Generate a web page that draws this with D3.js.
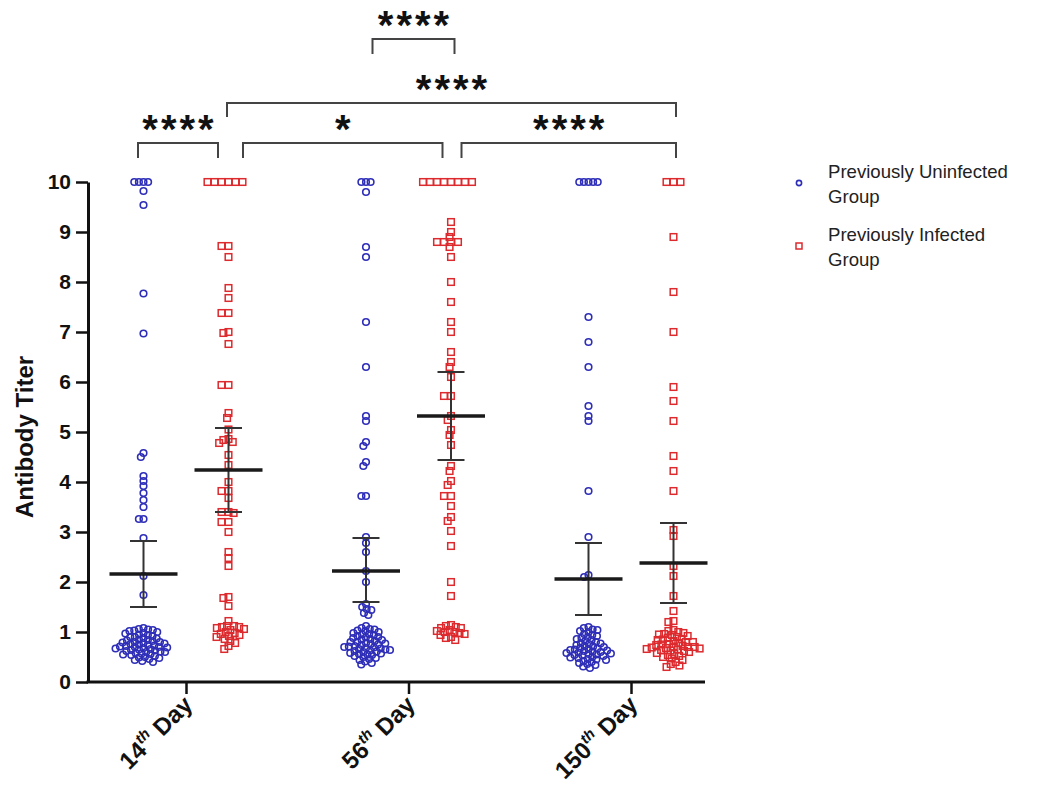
<!DOCTYPE html>
<html>
<head>
<meta charset="utf-8">
<script src="https://cdn.jsdelivr.net/npm/d3@7"></script>
<style>
  body { margin: 0; background: #fff; }
  svg { font-family: "Liberation Sans", Arial, sans-serif; }
</style>
</head>
<body>
<svg id="chart" width="1039" height="789"></svg>
<script>
// categories
const days = ['14', '56', '150'];
const groups = ['Previously Uninfected Group', 'Previously Infected Group'];
const yTicks = [0, 1, 2, 3, 4, 5, 6, 7, 8, 9, 10];

// previously uninfected, one list per day
const uninfected14 = [10, 10, 10, 10, 9.82, 9.54, 7.77, 6.97, 4.58, 4.5, 4.12, 4.02, 3.92, 3.78, 3.64, 3.5, 3.26, 3.26, 2.88, 2.12, 1.74,
  1.08, 1.06, 1.05, 1.04, 1.03, 1.02, 1.0, 0.98, 0.97, 0.95, 0.94, 0.92, 0.9, 0.9, 0.88, 0.87, 0.85, 0.84, 0.83, 0.82, 0.8, 0.8,
  0.79, 0.78, 0.77, 0.76, 0.75, 0.74, 0.73, 0.72, 0.71, 0.7, 0.7, 0.69, 0.68, 0.67, 0.66, 0.65, 0.64, 0.63, 0.62, 0.61, 0.6,
  0.6, 0.58, 0.57, 0.56, 0.55, 0.54, 0.52, 0.5, 0.49, 0.48, 0.46, 0.44, 0.42, 0.4];
const uninfected56 = [10, 10, 10, 9.8, 8.7, 8.5, 7.2, 6.3, 5.32, 5.22, 4.8, 4.72, 4.4, 4.32, 3.72, 3.72, 2.9, 2.78, 2.6, 2.22, 2.0,
  1.56, 1.5, 1.46, 1.44, 1.38, 1.34,
  1.12, 1.08, 1.06, 1.05, 1.03, 1.02, 1.0, 0.98, 0.96, 0.95, 0.94, 0.92, 0.9, 0.89, 0.88, 0.86, 0.85, 0.84, 0.82, 0.8, 0.8,
  0.78, 0.77, 0.76, 0.75, 0.74, 0.72, 0.71, 0.7, 0.69, 0.68, 0.67, 0.66, 0.65, 0.64, 0.63, 0.62, 0.61, 0.6, 0.58, 0.57,
  0.56, 0.55, 0.54, 0.52, 0.5, 0.48, 0.46, 0.44, 0.41, 0.38, 0.35];
const uninfected150 = [10, 10, 10, 10, 10, 7.3, 6.8, 6.3, 5.52, 5.32, 5.22, 3.82, 2.9, 2.14, 2.1,
  1.1, 1.08, 1.05, 1.04, 1.02, 1.0, 0.96, 0.94, 0.92, 0.9, 0.88, 0.86, 0.84, 0.82, 0.8, 0.78, 0.77, 0.76, 0.74, 0.72,
  0.71, 0.7, 0.68, 0.67, 0.66, 0.65, 0.64, 0.63, 0.62, 0.61, 0.6, 0.59, 0.58, 0.57, 0.56, 0.55, 0.54, 0.53, 0.52,
  0.5, 0.49, 0.48, 0.46, 0.45, 0.44, 0.42, 0.4, 0.38, 0.36, 0.34, 0.31, 0.28];

// previously infected, one list per day
const infected14 = [10, 10, 10, 10, 10, 10, 8.72, 8.72, 8.5, 7.88, 7.68, 7.38, 7.38, 7.0, 6.98, 6.76, 5.94, 5.94, 5.38, 5.28,
  5.05, 4.86, 4.84, 4.8, 4.78, 4.54, 4.34, 4.0, 3.82, 3.82, 3.68, 3.4, 3.4, 3.38, 3.2, 3.2, 3.0, 2.6, 2.48, 2.32, 1.7, 1.68, 1.52,
  1.22, 1.12, 1.12, 1.1, 1.1, 1.08, 1.06, 1.04, 1.0, 0.98, 0.96, 0.94, 0.92, 0.9, 0.86, 0.82, 0.78, 0.72, 0.66];
const infected56 = [10, 10, 10, 10, 10, 10, 10, 10, 9.2, 9.0, 8.9, 8.8, 8.8, 8.8, 8.8, 8.7, 8.5, 8.0, 7.6, 7.2, 7.0, 6.6, 6.4,
  6.3, 6.1, 5.72, 5.72, 5.32, 5.24, 5.04, 4.94, 4.74, 4.32, 4.22, 4.02, 3.94, 3.72, 3.72, 3.52, 3.3, 3.22, 3.02, 2.72, 2.0, 1.72,
  1.14, 1.12, 1.1, 1.08, 1.08, 1.04, 1.02, 1.0, 1.0, 0.98, 0.96, 0.94, 0.9, 0.88, 0.84];
const infected150 = [10, 10, 10, 8.9, 7.8, 7.0, 5.9, 5.62, 5.22, 4.52, 4.22, 3.82, 3.04, 2.92, 2.32, 2.12, 1.72, 1.42, 1.22, 1.2,
  1.04, 1.02, 1.0, 0.98, 0.96, 0.95, 0.94, 0.92, 0.9, 0.88, 0.86, 0.85, 0.84, 0.82, 0.8, 0.8, 0.78, 0.76, 0.75, 0.74, 0.72,
  0.71, 0.7, 0.7, 0.69, 0.68, 0.67, 0.66, 0.65, 0.64, 0.63, 0.62, 0.6, 0.58, 0.56, 0.54, 0.52, 0.5, 0.47, 0.44, 0.4, 0.36,
  0.33, 0.3];

// mean and error bar ends
const uninfectedMean = [2.16, 2.22, 2.06];
const uninfectedLow = [1.5, 1.6, 1.34];
const uninfectedHigh = [2.82, 2.88, 2.78];
const infectedMean = [4.24, 5.32, 2.38];
const infectedLow = [3.4, 4.44, 1.58];
const infectedHigh = [5.08, 6.2, 3.18];

// significance comparisons: [day, group] vs [day, group]
const comparisons = [
  { a: ['14', 0], b: ['14', 1], label: '****' },
  { a: ['14', 1], b: ['56', 1], label: '*' },
  { a: ['56', 1], b: ['150', 1], label: '****' },
  { a: ['14', 1], b: ['150', 1], label: '****' },
  { a: ['56', 0], b: ['56', 1], label: '****' },
];

const series = [
  { name: groups[0], values: [uninfected14, uninfected56, uninfected150], mean: uninfectedMean, low: uninfectedLow, high: uninfectedHigh },
  { name: groups[1], values: [infected14, infected56, infected150], mean: infectedMean, low: infectedLow, high: infectedHigh },
];

const colors = ['#2e2eb8', '#dc2a2e'];
const ink = '#111';

const svg = d3.select('#chart');

const x = d3.scalePoint().domain(days).range([186, 631]);
const xSub = d3.scalePoint().domain([0, 1]).range([-42.5, 42.5]);
const y = d3.scaleLinear().domain([0, 10]).range([682, 182]);

// layout for brackets (pixel offsets from column centres and bar heights)
const bracketLayout = [
  { da: -5.5, db: -10.5, top: 143, leg: 15 },
  { da: 14.5, db: -8.5, top: 143, leg: 15 },
  { da: 10.5, db: 2.5, top: 143, leg: 15 },
  { da: -1.5, db: 2.5, top: 103, leg: 14 },
  { da: 6.5, db: 3.5, top: 39, leg: 15 },
];

// marker spacing: same value side by side, otherwise a tighter swarm
const spacing = [{ row: 4.6, swarm: 4.8 }, { row: 7, swarm: 5.2 }];

// simple beeswarm: nearest free offset to the column centre
function swarm(values, sp) {
  const pts = values.map(v => ({ v, y: y(v) })).sort((p, q) => p.y - q.y);
  const placed = [];
  const dist = (p, q) => (Math.abs(p.y - q.y) < 0.5 ? sp.row : sp.swarm);
  pts.forEach(p => {
    const near = placed.filter(q => Math.abs(q.y - p.y) < dist(p, q));
    const cands = [0];
    near.forEach(q => {
      const d = dist(p, q);
      const dx = Math.sqrt(Math.max(0, d * d - (q.y - p.y) ** 2));
      cands.push(q.x - dx, q.x + dx);
    });
    cands.sort((a, b) => Math.abs(a) - Math.abs(b) || a - b);
    for (const c of cands) {
      if (near.every(q => { const d = dist(p, q); return (q.x - c) ** 2 + (q.y - p.y) ** 2 >= d * d - 0.01; })) { p.x = c; break; }
    }
    placed.push(p);
  });
  return pts;
}

// y axis
const yAxis = svg.append('g')
  .attr('transform', `translate(${88},0)`)
  .call(d3.axisLeft(y).tickValues(yTicks).tickSize(12).tickPadding(5).tickSizeOuter(0));
yAxis.select('.domain').attr('stroke', ink).attr('stroke-width', 3);
yAxis.selectAll('.tick line').attr('stroke', ink).attr('stroke-width', 2.5);
yAxis.selectAll('.tick text')
  .attr('fill', ink)
  .style('font-size', '21px')
  .style('font-weight', 'bold')
  .style('font-family', '"Liberation Sans", Arial, sans-serif');

svg.append('text')
  .attr('transform', 'translate(33,437) rotate(-90)')
  .attr('text-anchor', 'middle')
  .style('font-size', '24px')
  .style('font-weight', 'bold')
  .attr('fill', ink)
  .text('Antibody Titer');

// x axis
svg.append('line')
  .attr('x1', 86.5).attr('x2', 705)
  .attr('y1', y(0)).attr('y2', y(0))
  .attr('stroke', ink).attr('stroke-width', 3);

const xAxis = svg.append('g')
  .attr('transform', `translate(0,${y(0)})`)
  .call(d3.axisBottom(x).tickSize(12).tickSizeOuter(0).tickFormat(''));
xAxis.select('.domain').remove();
xAxis.selectAll('.tick line').attr('stroke', ink).attr('stroke-width', 2.5);

const xLabels = svg.append('g').selectAll('text')
  .data(days)
  .join('text')
  .attr('transform', d => `translate(${x(d) + 8},${y(0) + 24}) rotate(-45)`)
  .attr('text-anchor', 'end')
  .attr('fill', ink)
  .style('font-size', '24px')
  .style('font-weight', 'bold');
xLabels.append('tspan').text(d => d);
xLabels.append('tspan')
  .attr('dy', -10)
  .style('font-size', '15px')
  .style('font-style', 'italic')
  .text('th');
xLabels.append('tspan')
  .attr('dy', 10)
  .text(' Day');

// points
series.forEach((s, gi) => {
  const g = svg.append('g').attr('class', 'series');
  s.values.forEach((vals, di) => {
    const cx = x(days[di]) + xSub(gi);
    const pts = swarm(vals, spacing[gi]);
    if (gi === 0) {
      g.selectAll(null).data(pts).join('circle')
        .attr('cx', p => cx + p.x)
        .attr('cy', p => p.y)
        .attr('r', 3.3)
        .attr('fill', 'none')
        .attr('stroke', colors[gi])
        .attr('stroke-width', 1.6);
    } else {
      g.selectAll(null).data(pts).join('rect')
        .attr('x', p => cx + p.x - 3.3)
        .attr('y', p => p.y - 3.3)
        .attr('width', 6.6)
        .attr('height', 6.6)
        .attr('fill', 'none')
        .attr('stroke', colors[gi])
        .attr('stroke-width', 1.5);
    }
  });
});

// mean and error bars
series.forEach((s, gi) => {
  const g = svg.append('g').attr('class', 'summary');
  days.forEach((day, di) => {
    const cx = x(day) + xSub(gi);
    g.append('line')
      .attr('x1', cx).attr('x2', cx)
      .attr('y1', y(s.high[di])).attr('y2', y(s.low[di]))
      .attr('stroke', '#333').attr('stroke-width', 2);
    [s.high[di], s.low[di]].forEach(v => {
      g.append('line')
        .attr('x1', cx - 13.5).attr('x2', cx + 13.5)
        .attr('y1', y(v)).attr('y2', y(v))
        .attr('stroke', '#333').attr('stroke-width', 2);
    });
    g.append('line')
      .attr('x1', cx - 34).attr('x2', cx + 34)
      .attr('y1', y(s.mean[di])).attr('y2', y(s.mean[di]))
      .attr('stroke', '#1a1a1a').attr('stroke-width', 3.5);
  });
});

// significance brackets
const colX = ([day, gi]) => x(day) + xSub(gi);
comparisons.forEach((c, i) => {
  const L = bracketLayout[i];
  const x1 = colX(c.a) + L.da;
  const x2 = colX(c.b) + L.db;
  svg.append('path')
    .attr('d', `M${x1},${L.top + L.leg}V${L.top}H${x2}V${L.top + L.leg}`)
    .attr('fill', 'none')
    .attr('stroke', '#444')
    .attr('stroke-width', 2);
  svg.append('text')
    .attr('x', (x1 + x2) / 2 + 1.5)
    .attr('y', L.top)
    .attr('text-anchor', 'middle')
    .attr('fill', ink)
    .style('font-size', '40px')
    .style('font-weight', 'bold')
    .style('letter-spacing', '3px')
    .text(c.label);
});

// legend
const legend = svg.append('g').attr('transform', 'translate(799,0)');
const legendRows = [
  { lines: ['Previously Uninfected', 'Group'], y: 183 },
  { lines: ['Previously Infected', 'Group'], y: 246 },
];
legendRows.forEach((row, i) => {
  if (i === 0) {
    legend.append('circle').attr('cx', 0).attr('cy', row.y).attr('r', 2.6)
      .attr('fill', 'none').attr('stroke', colors[0]).attr('stroke-width', 1.6);
  } else {
    legend.append('rect').attr('x', -3).attr('y', row.y - 3).attr('width', 6).attr('height', 6)
      .attr('fill', 'none').attr('stroke', colors[1]).attr('stroke-width', 1.5);
  }
  legend.append('text')
    .attr('x', 29)
    .attr('y', row.y - 5)
    .attr('fill', '#222')
    .style('font-size', '18.6px')
    .selectAll('tspan')
    .data(row.lines)
    .join('tspan')
    .attr('x', 29)
    .attr('dy', (d, j) => j === 0 ? 0 : 25)
    .text(d => d);
});
</script>
</body>
</html>
